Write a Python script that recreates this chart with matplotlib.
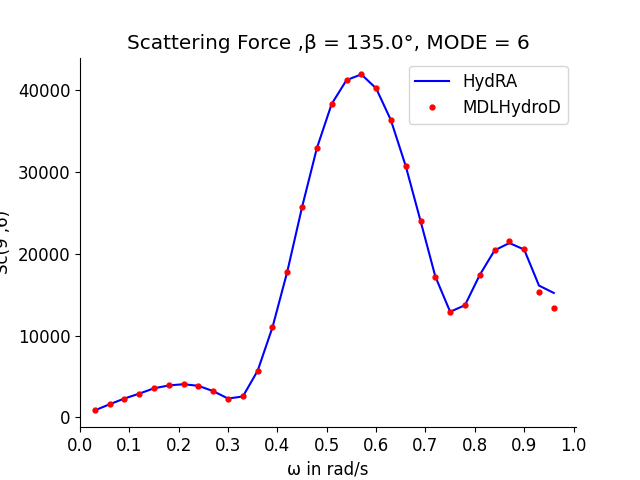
import numpy as np
import matplotlib
matplotlib.use("Agg")
import matplotlib.pyplot as plt

omega = [0.03, 0.06, 0.09, 0.12, 0.15, 0.18, 0.21, 0.24, 0.27, 0.30, 0.33,
         0.36, 0.39, 0.42, 0.45, 0.48, 0.51, 0.54, 0.57, 0.60, 0.63, 0.66,
         0.69, 0.72, 0.75, 0.78, 0.81, 0.84, 0.87, 0.90, 0.93, 0.96]
hydra = [850, 1600, 2300, 2900, 3550, 3900, 4050, 3850, 3200, 2300, 2550,
         5700, 11000, 17800, 25700, 32900, 38300, 41200, 41900, 40200, 36300, 30700,
         24000, 17200, 12900, 13700, 17400, 20400, 21300, 20500, 16100, 15200]
mdl = [850, 1600, 2300, 2900, 3550, 3900, 4050, 3850, 3200, 2300, 2550,
       5700, 11000, 17800, 25700, 32900, 38300, 41200, 41900, 40200, 36300, 30700,
       24000, 17200, 12900, 13700, 17400, 20400, 21600, 20600, 15300, 13300]

plt.rcParams['font.size'] = 12
fig, ax = plt.subplots(figsize=(6.4, 4.8), dpi=100)
ax.plot(omega, hydra, color='blue', label='HydRA')
ax.plot(omega, mdl, '.', color='red', markersize=7, label='MDLHydroD')
ax.set_xticks(np.arange(0, 1.01, 0.1))
ax.set_xlim(0.0, 1.005)
ax.spines['top'].set_visible(False)
ax.spines['right'].set_visible(False)
ax.set_xlabel('ω in rad/s')
ax.set_ylabel('Sc(9 ,6)')
ax.set_title('Scattering Force ,β = 135.0°, MODE = 6')
ax.legend(loc='upper right')
plt.savefig('out.png')
